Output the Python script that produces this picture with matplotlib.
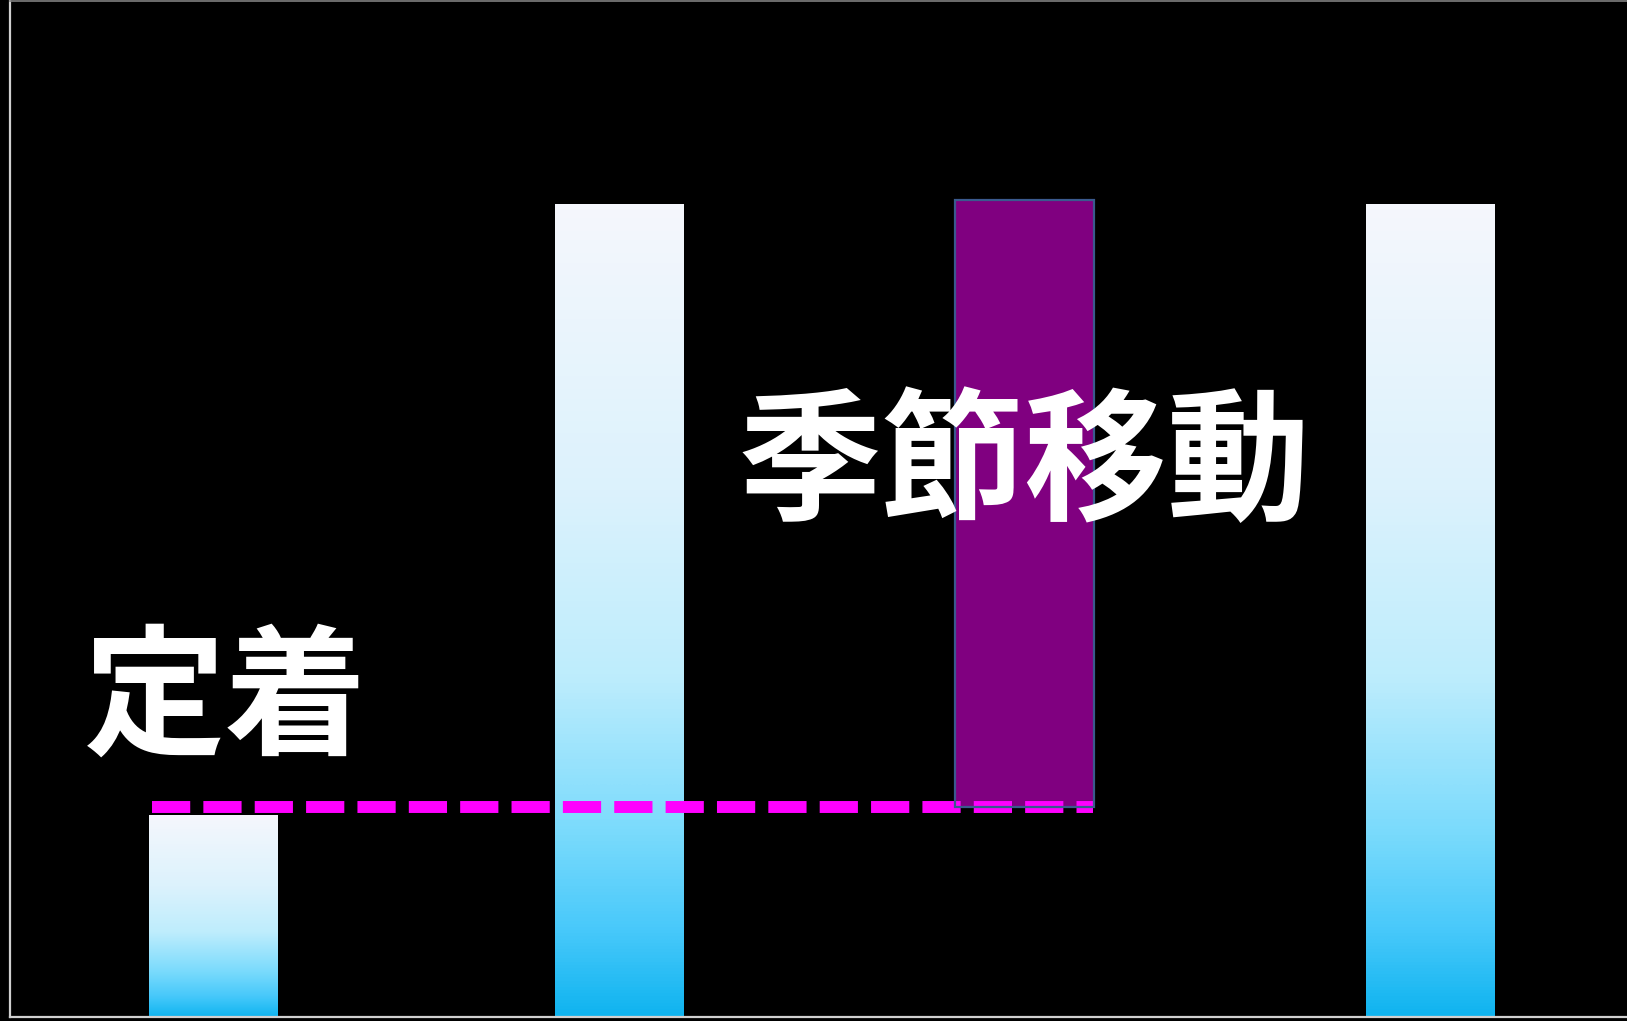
import numpy as np
import matplotlib.pyplot as plt
from matplotlib.colors import LinearSegmentedColormap
from matplotlib.patches import Rectangle

plt.rcParams['font.family'] = ['Noto Sans CJK JP', 'DejaVu Sans']

# data
bar_pos = [0, 1, 3]
bar_vals = [0.99, 4.0, 4.0]
band_pos = 2
band_low = 1.035
band_high = 4.02
ref_level = 1.035
ref_span = [-0.15, 2.17]
label_stay = "定着"
label_move = "季節移動"

# gradient: top (pale) -> bottom (sky blue)
grad = LinearSegmentedColormap.from_list('barfade', [
    (0.00, '#10B4F0'),
    (0.10, '#46C8FA'),
    (0.22, '#78DAFC'),
    (0.42, '#BEEDFD'),
    (0.65, '#DCF2FC'),
    (1.00, '#F5F7FD'),
])

fig = plt.figure(figsize=(16.27, 10.21), dpi=100, facecolor='black')
ax = fig.add_axes([10 / 1627, 4 / 1021, 1623 / 1627, 1016 / 1021])
ax.set_facecolor('black')

width = 0.316
bars = ax.bar(bar_pos, bar_vals, width=width, color='none', zorder=1)
ramp = np.linspace(0, 1, 256).reshape(-1, 1)
for b in bars:
    x0, h = b.get_x(), b.get_height()
    ax.imshow(ramp, cmap=grad, origin='lower', aspect='auto',
              extent=(x0, x0 + width, 0, h), zorder=1, interpolation='bicubic')

bw = 0.342
ax.add_patch(Rectangle((band_pos - bw / 2, band_low), bw, band_high - band_low,
                       facecolor='#800080', edgecolor='none', zorder=2))
ax.plot(ref_span, [ref_level, ref_level], color='#FF00FF', lw=8.6,
        dashes=(3.2, 1.1), solid_capstyle='butt', dash_capstyle='butt', zorder=3)
ax.add_patch(Rectangle((band_pos - bw / 2, band_low), bw, band_high - band_low,
                       facecolor='none', edgecolor='#3A5A8E', lw=1.6, zorder=4))

ax.text(0.03, 1.55, label_stay, color='white', fontsize=102, fontweight='bold',
        ha='center', va='center', zorder=5)
ax.text(2.0, 2.705, label_move, color='white', fontsize=103, fontweight='bold',
        ha='center', va='center', zorder=5)

ax.set_xlim(-0.5, 3.5)
ax.set_ylim(0, 5)
ax.set_xticks([])
ax.set_yticks([])
for s in ['left', 'bottom']:
    ax.spines[s].set_color('#D0D0D0')
    ax.spines[s].set_linewidth(1.6)
ax.spines['top'].set_color('#808080')
ax.spines['top'].set_linewidth(1.2)
ax.spines['right'].set_visible(False)

fig.savefig('out.png', dpi=100, facecolor='black')
